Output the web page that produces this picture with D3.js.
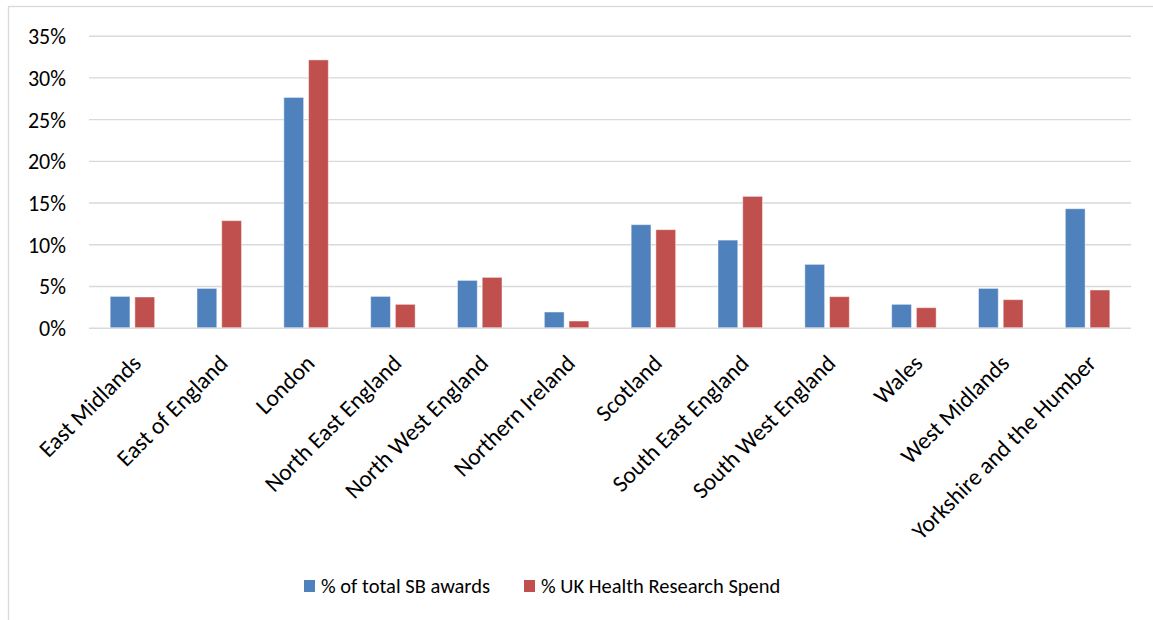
<!DOCTYPE html>
<html>
<head>
<meta charset="utf-8">
<script src="https://cdn.jsdelivr.net/npm/d3@7"></script>
<style>
  html, body { margin: 0; padding: 0; background: #fff; }
  svg { display: block; font-family: Carlito, Lato, "Open Sans", sans-serif; }
</style>
</head>
<body>
<svg id="chart" width="1153" height="620"></svg>
<script>
// Regional share of awards vs. health research spend (percent)
const regions = [
  "East Midlands", "East of England", "London", "North East England",
  "North West England", "Northern Ireland", "Scotland", "South East England",
  "South West England", "Wales", "West Midlands", "Yorkshire and the Humber"
];
const sbAwards = [3.75, 4.71, 27.6, 3.75, 5.67, 1.88, 12.35, 10.5, 7.59, 2.8, 4.71, 14.26];
const healthSpend = [3.68, 12.83, 32.1, 2.8, 6.03, 0.8, 11.75, 15.74, 3.72, 2.4, 3.36, 4.52];
const seriesNames = ["% of total SB awards", "% UK Health Research Spend"];
const seriesColors = ["#4f81bd", "#c0504d"];
const yTicks = [0, 5, 10, 15, 20, 25, 30, 35];

const FONT = 20.5;
const Y_FONT = 22;
const CAT_FONT = 23.5;
const svg = d3.select("#chart");

// outer chart frame
svg.append("rect")
  .attr("x", 8.5).attr("y", 6.5)
  .attr("width", 1170).attr("height", 640)
  .attr("fill", "none").attr("stroke", "#d9d9d9").attr("stroke-width", 1.3);

const plot = { left: 89, right: 1131, top: 35.7, bottom: 327.7 };

const x0 = d3.scaleBand().domain(regions).range([plot.left, plot.right]).padding(0);
const x1 = d3.scaleBand().domain([0, 1]).range([0, x0.bandwidth()])
  .paddingInner(0.2).paddingOuter(0.857);
const y = d3.scaleLinear().domain([0, 35]).range([plot.bottom, plot.top]);

// horizontal gridlines (including the baseline)
const yAxis = d3.axisLeft(y).tickValues(yTicks)
  .tickSize(-(plot.right - plot.left)).tickFormat(d => d + "%");
const gy = svg.append("g").attr("transform", `translate(${plot.left},0)`).call(yAxis);
gy.select(".domain").remove();
gy.selectAll(".tick line").attr("stroke", "#d9d9d9").attr("stroke-width", 1.4);
gy.selectAll(".tick text")
  .attr("x", -23).attr("dy", "0.36em")
  .attr("font-size", Y_FONT).attr("fill", "#000")
  .attr("font-family", "Carlito, Lato, sans-serif");

// bars
const rows = regions.map((r, i) => ({ region: r, values: [sbAwards[i], healthSpend[i]] }));
const groups = svg.append("g").selectAll("g").data(rows).join("g")
  .attr("transform", d => `translate(${x0(d.region)},0)`);
groups.selectAll("rect")
  .data(d => d.values.map((v, k) => ({ v, k })))
  .join("rect")
  .attr("x", d => x1(d.k))
  .attr("width", x1.bandwidth())
  .attr("y", d => y(d.v))
  .attr("height", d => y(0) - y(d.v))
  .attr("fill", d => seriesColors[d.k])
  .attr("stroke", "#ffffff").attr("stroke-opacity", 0.45).attr("stroke-width", 1);

// category labels, rotated
const xAxis = d3.axisBottom(x0).tickSize(0).tickPadding(0);
const gx = svg.append("g").attr("transform", `translate(0,${plot.bottom})`).call(xAxis);
gx.select(".domain").remove();
gx.selectAll(".tick text")
  .attr("font-size", CAT_FONT).attr("fill", "#000")
  .attr("font-family", "Carlito, Lato, sans-serif")
  .attr("text-anchor", "end")
  .attr("dy", 0)
  .attr("transform", "translate(10,37) rotate(-45)");

// legend
const legend = svg.append("g").attr("transform", "translate(304,579)");
const legendX = [0, 220];
seriesNames.forEach((name, k) => {
  const g = legend.append("g").attr("transform", `translate(${legendX[k]},0)`);
  g.append("rect").attr("width", 11).attr("height", 12).attr("y", 1).attr("fill", seriesColors[k]);
  g.append("text").attr("x", 17).attr("y", 14)
    .attr("font-size", FONT).attr("fill", "#000").text(name);
});
</script>
</body>
</html>
